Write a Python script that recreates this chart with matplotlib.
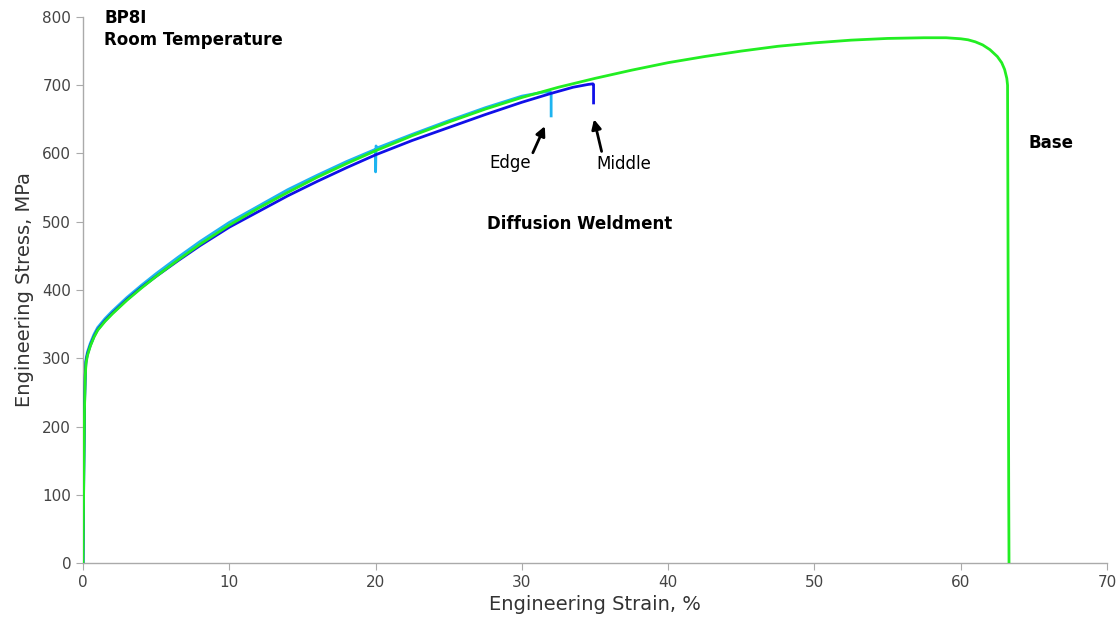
# stress-strain curves, BP8I base vs diffusion weldment (edge / middle)
import matplotlib
matplotlib.use('Agg')
import matplotlib.pyplot as plt

# Base metal
base_strain = [0, 0.05, 0.1, 0.15, 0.2, 0.3, 0.5, 0.75, 1, 1.5, 2, 3, 4, 5, 6.5, 8, 10,
               12, 14, 16, 18, 20, 22.5, 25, 27.5, 30, 32.5, 35, 37.5, 40, 42.5, 45,
               47.5, 50, 52.5, 55, 57.5, 59, 60, 60.5, 61, 61.5, 62, 62.5, 62.8, 63.0,
               63.15, 63.2, 63.22, 63.28, 63.3]
base_stress = [0, 125, 225, 272, 292, 304, 318, 331, 341, 354, 365, 385, 403, 420, 444, 467, 495,
               520, 543, 565, 585, 604, 626, 646, 665, 682, 697, 710, 722, 733, 742, 750,
               757, 762, 766, 768.5, 769.5, 769.5, 768, 766.5, 763.5, 759, 752, 742, 733, 723,
               710, 700, 560, 100, 0]

# Diffusion weldment - middle
middle_strain = [0, 0.05, 0.1, 0.15, 0.2, 0.3, 0.5, 0.75, 1, 1.5, 2, 3, 4, 5, 6.5, 8, 10,
                 12, 14, 16, 18, 20, 22.5, 25, 27.5, 30, 32, 33.5, 34.5, 34.85, 34.9, 34.9]
middle_stress = [0, 130, 228, 276, 295, 306, 319, 332, 342, 355, 366, 386, 404, 420, 443, 465, 492,
                 515, 538, 559, 579, 598, 619, 638, 657, 675, 688, 697, 701, 702, 701, 674]

# Diffusion weldment - edge
edge_strain = [0, 0.05, 0.1, 0.15, 0.2, 0.3, 0.5, 0.75, 1, 1.5, 2, 3, 4, 5, 6.5, 8, 10,
               12, 14, 16, 18, 19.98, 20.0, 20.03, 20.1, 22.5, 25, 27.5, 30, 31.5, 31.95,
               32.0, 32.0]
edge_stress = [0, 140, 235, 280, 298, 309, 322, 335, 345, 358, 369, 389, 407, 424, 448, 471, 499,
               523, 547, 568, 588, 606, 573, 611, 608, 628, 648, 667, 684, 690, 690,
               688, 655]

fig = plt.figure(figsize=(11.19, 6.27), dpi=100)
ax = fig.add_axes([0.0742, 0.102, 0.9151, 0.871])

ax.plot(edge_strain, edge_stress, color='#1eb4f0', lw=2.0, zorder=2)
ax.plot(middle_strain, middle_stress, color='#1010e8', lw=2.0, zorder=3)
ax.plot(base_strain, base_stress, color='#22ee22', lw=2.0, zorder=4)

ax.set_xlim(0, 70)
ax.set_ylim(0, 800)
ax.set_xticks(range(0, 71, 10))
ax.set_yticks(range(0, 801, 100))

for s in ['top', 'right']:
    ax.spines[s].set_visible(False)
for s in ['left', 'bottom']:
    ax.spines[s].set_color('#aaaaaa')
    ax.spines[s].set_linewidth(1.0)
ax.tick_params(colors='#aaaaaa', labelcolor='#444444', labelsize=11, length=5)

ax.set_xlabel('Engineering Strain, %', fontsize=14, color='#333333', labelpad=4)
ax.set_ylabel('Engineering Stress, MPa', fontsize=14, color='#333333', labelpad=6)

ax.text(1.45, 798, 'BP8I', fontsize=12, fontweight='bold', va='center', ha='left')
ax.text(1.45, 766, 'Room Temperature', fontsize=12, fontweight='bold', va='center', ha='left')
ax.text(64.6, 615, 'Base', fontsize=12, fontweight='bold', va='center', ha='left')
ax.text(27.6, 497, 'Diffusion Weldment', fontsize=12, fontweight='bold', va='center', ha='left')

ax.text(27.8, 586, 'Edge', fontsize=12, ha='left', va='center')
ax.text(35.1, 585, 'Middle', fontsize=12, ha='left', va='center')

arrow = dict(arrowstyle='-|>', color='black', lw=2.0, mutation_scale=14, shrinkA=0, shrinkB=0)
ax.annotate('', xy=(31.57, 640), xytext=(30.75, 601), arrowprops=arrow)
ax.annotate('', xy=(34.93, 650), xytext=(35.45, 603), arrowprops=arrow)

fig.savefig('out.png', dpi=100)
